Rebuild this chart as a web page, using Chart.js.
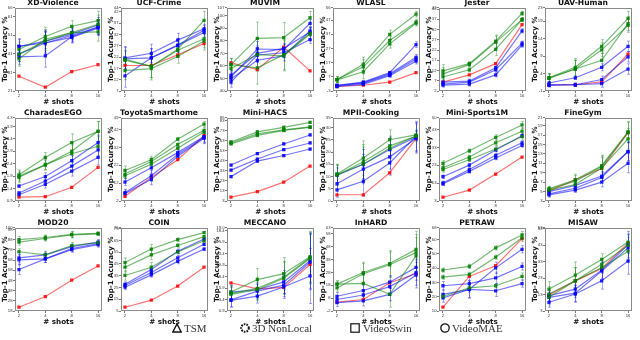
<!DOCTYPE html>
<html>
<head>
<meta charset="utf-8">
<script src="https://cdn.jsdelivr.net/npm/chart.js@4/dist/chart.umd.min.js"></script>
<style>
  html, body { margin: 0; padding: 0; background: #fff; }
  body { width: 640px; height: 340px; overflow: hidden; position: relative; font-family: "DejaVu Sans", sans-serif; }
  .panel { position: absolute; width: 106px; height: 107px; }
  .item { position: absolute; top: 321px; height: 14px; line-height: 14px; font-family: "Liberation Serif", serif; font-size: 11px; color: #333; white-space: nowrap; }
  .item svg { position: absolute; top: 2px; }
  .item span { position: absolute; top: 0; }
</style>
</head>
<body>
<div id="grid"></div>

<div class="item" style="left:172px"><svg width="10" height="10" viewBox="0 0 10 10"><polygon points="5,1 9.2,9 0.8,9" fill="none" stroke="#111" stroke-width="1.4"/></svg><span style="left:12px">TSM</span></div>
<div class="item" style="left:240px"><svg width="10" height="10" viewBox="0 0 10 10"><circle cx="5" cy="5" r="3.8" fill="none" stroke="#111" stroke-width="2" stroke-dasharray="1.6 1.1"/></svg><span style="left:12px">3D NonLocal</span></div>
<div class="item" style="left:350px"><svg width="10" height="10" viewBox="0 0 10 10"><rect x="0.8" y="0.8" width="8.4" height="8.4" fill="none" stroke="#111" stroke-width="1.2"/></svg><span style="left:13px">VideoSwin</span></div>
<div class="item" style="left:440px"><svg width="10" height="10" viewBox="0 0 10 10"><circle cx="5" cy="5" r="4.2" fill="none" stroke="#111" stroke-width="1.3"/></svg><span style="left:12px">VideoMAE</span></div>

<script>
// x positions (number of shots)
const shots = [2, 4, 8, 16];

const titles = ["XD-Violence", "UCF-Crime", "MUVIM", "WLASL", "Jester", "UAV-Human",
  "CharadesEGO", "ToyotaSmarthome", "Mini-HACS", "MPII-Cooking", "Mini-Sports1M", "FineGym",
  "MOD20", "COIN", "MECCANO", "InHARD", "PETRAW", "MISAW"];

// y tick spacing per panel
const yStep = [10, 5, 10, 10, 5, 5, 0.5, 10, 10, 5, 10, 2, 10, 10, 2.5, 10, 10, 10];

// ---- row 1 ----
const xdGreen = [[43.5, 50.5, 56, 59], [38.5, 49, 52.6, 53], [41, 48, 52.6, 57]];
const xdBlue = [[45.3, 47, 51, 55.5], [39.5, 40, 50.4, 55.6], [41, 47, 50, 55], [45, 48, 51.8, 56.7]];
const xdRed = [29.1, 23.2, 31.6, 35.3];
const xdErrG = [4, 5, 3, 5];
const xdErrB = [4, 6, 3, 4];

const ucfGreen = [[20.9, 18.2, 25.8, 38.5], [16.3, 17.2, 22.6, 29.4], [21.3, 18.2, 25.3, 30.4]];
const ucfBlue = [[22, 24, 29.8, 34.8], [14, 22, 27.4, 33.2], [21.5, 22, 27.6, 34.2]];
const ucfRed = [18.6, 18.6, 23.3, 28.3];
const ucfErrG = [4, 5, 3, 4];
const ucfErrB = [5, 4, 3, 2];

const muvimGreen = [[61, 82, 82.6, 98.5], [61, 58.5, 69, 86], [58, 69, 68, 85.4]];
const muvimBlue = [[51, 73.5, 73, 94], [49.5, 64.5, 68, 88], [47, 68.7, 70.5, 81], [52.6, 70, 74, 87]];
const muvimRed = [62.5, 57, 75, 56];
const muvimErrG = [5, 13, 12, 5];
const muvimErrB = [4, 6, 4, 3];

const wlaslGreen = [[5.5, 16.3, 37.4, 51.6], [5.5, 14.5, 33, 46], [5.3, 11, 30.7, 45.3]];
const wlaslBlue = [[1.5, 3.7, 10.4, 30.2], [1, 2.8, 8.9, 20], [0.6, 2.1, 8.2, 18.5], [1.3, 3.3, 9.6, 21.2]];
const wlaslRed = [0.6, 1.5, 3.7, 10.4];
const wlaslErrG = [2, 5, 3, 2];
const wlaslErrB = [0.5, 1, 1, 2];

const jesterGreen = [[11.5, 15, 26, 39.5], [10, 14.5, 25.5, 36.5], [8.5, 12, 22, 36.5]];
const jesterBlue = [[6, 6.5, 13, 31], [5, 6, 12, 25], [4.5, 5, 9.5, 24]];
const jesterRed = [6, 9.5, 15, 34];
const jesterErrG = [3, 1, 3, 1];
const jesterErrB = [1, 1, 1, 1];

const uavGreen = [[3, 6, 12, 20], [3, 5.5, 11, 18], [2.8, 5.5, 8, 18.5]];
const uavBlue = [[1.5, 3, 6, 12], [1, 1, 2.5, 9], [0.8, 1, 1.3, 5.5]];
const uavRed = [1, 1, 1.8, 9.8];
const uavErrG = [1.2, 2.5, 2, 2];
const uavErrB = [0.5, 0.5, 1, 1.5];

// ---- row 2 ----
const charadesGreen = [[2.0, 2.7, 3.3, 3.75], [1.95, 2.4, 2.95, 3.75], [1.9, 2.4, 2.85, 3.15]];
const charadesBlue = [[1.55, 1.93, 2.57, 3.3], [1.27, 1.75, 2.35, 3.0], [1.2, 1.62, 2.15, 2.7]];
const charadesRed = [1.1, 1.12, 1.5, 2.3];
const charadesErrG = [0.2, 0.2, 0.35, 0.4];
const charadesErrB = [0.05, 0.15, 0.2, 0.3];

const toyotaGreen = [[19, 25, 36.5, 45], [17, 24, 33.5, 41.5], [16, 22.5, 31.5, 40.5]];
const toyotaBlue = [[12.5, 20.5, 29, 38], [6.5, 16, 28, 37.5], [6, 14, 27, 37]];
const toyotaRed = [4.5, 15, 25, 38.5];
const toyotaErrG = [2.5, 2, 1, 1.5];
const toyotaErrB = [2, 3, 2, 3];

const hacsGreen = [[62, 72, 76.5, 81.5], [61, 70, 74, 77], [60, 68.5, 73.5, 76.5]];
const hacsBlue = [[39, 50.5, 60, 69], [34, 45, 54.5, 61], [27.5, 43, 48.5, 55]];
const hacsRed = [7, 12.5, 22, 38];
const hacsErrG = [1, 1.5, 1.5, 1];
const hacsErrB = [1, 1, 1, 1];

const mpiiGreen = [[11.5, 18, 25.5, 27.5], [11, 16.5, 23, 27], [11.3, 15.5, 22, 27]];
const mpiiBlue = [[11, 15.5, 21.5, 26.5], [7.5, 13.5, 18.5, 26], [5, 8.5, 16, 27]];
const mpiiRed = [3, 3, 12, 26];
const mpiiErrG = [4, 7, 4, 2];
const mpiiErrB = [3, 6, 5, 6];

const sportsGreen = [[24.5, 31.5, 39, 46], [22, 28, 36, 42.5], [21, 26.5, 32.5, 39.5]];
const sportsBlue = [[17, 23.5, 32, 40], [13.5, 21, 29, 36], [13, 20, 27.5, 34.5]];
const sportsRed = [5.5, 9.5, 18.5, 28];
const sportsErrG = [1.5, 1, 1.5, 2];
const sportsErrB = [1, 1, 1, 1];

const gymGreen = [[6.1, 8, 11, 18.2], [6, 7.7, 10.8, 18], [5.8, 7, 10.5, 16.7]];
const gymBlue = [[5.5, 6.8, 8.8, 14], [5, 6.2, 8.5, 14], [4.8, 5.8, 7.5, 11.5]];
const gymRed = [5.6, 8, 10.4, 18];
const gymErrG = [0.5, 1.2, 2.2, 2.2];
const gymErrB = [0.5, 0.5, 1, 2];

// ---- row 3 ----
const mod20Green = [[88, 90, 93, 94], [85.5, 89, 92.5, 93.5], [76, 73, 82, 85]];
const mod20Blue = [[70, 73, 81, 85.5], [68, 69, 79, 84], [58.5, 69, 78, 83]];
const mod20Red = [21.5, 32, 48, 62];
const mod20ErrG = [3, 2.5, 3, 1.5];
const mod20ErrB = [5, 3.5, 2.5, 2.5];

const coinGreen = [[46, 57.5, 65.5, 71.5], [42, 52.5, 60.5, 68], [35, 42, 55, 64.5]];
const coinBlue = [[27.5, 40, 55.5, 66], [26.5, 37.5, 50, 61.5], [25, 35.5, 47, 57.5]];
const coinRed = [8, 14, 26, 42];
const coinErrG = [4, 4, 1.5, 1];
const coinErrB = [2, 2, 2, 1];

const meccanoGreen = [[5, 7.7, 9, 12.7], [4.7, 5.8, 8.2, 12.5], [4.5, 5.5, 8, 12.3]];
const meccanoBlue = [[5, 5.5, 7.2, 11.8], [3.3, 5.2, 6.5, 11.5], [3.2, 4.1, 6.1, 8.5]];
const meccanoRed = [7, 5.7, 6, 11];
const meccanoErrG = [1.5, 2.4, 3.5, 5.5];
const meccanoErrB = [1.5, 1.5, 2.5, 6];

const inhardGreen = [[19, 28, 35, 46], [16, 27, 34, 43.5], [19, 19.5, 11, 41]];
const inhardBlue = [[9.5, 14, 20.5, 32], [7, 10.5, 17, 28], [4.5, 6, 11, 26]];
const inhardRed = [5, 7, 20, 27];
const inhardErrG = [2.5, 8, 10, 14];
const inhardErrB = [3, 4, 5, 10];

const petrawGreen = [[38.5, 41, 54, 63], [33.5, 35.5, 47.5, 61], [20, 26, 27.5, 34]];
const petrawBlue = [[27.5, 29, 33, 41], [21.5, 25, 40, 53], [19, 25, 24, 29]];
const petrawRed = [12.5, 34, 41.5, 60.5];
const petrawErrG = [1.5, 1.5, 1.5, 2.5];
const petrawErrB = [3, 6, 4, 2.5];

const misawGreen = [[16, 24.5, 34, 44.5], [13, 21, 31, 42.5], [11, 21, 29, 39]];
const misawBlue = [[12, 16, 27.5, 43], [11, 13.5, 27, 41], [8, 13, 21, 33]];
const misawRed = [12.5, 21, 28.5, 44];
const misawErrG = [4.5, 8, 3.5, 5];
const misawErrB = [3, 5, 5, 8];

const panels = [
  [xdGreen, xdBlue, xdRed, xdErrG, xdErrB],
  [ucfGreen, ucfBlue, ucfRed, ucfErrG, ucfErrB],
  [muvimGreen, muvimBlue, muvimRed, muvimErrG, muvimErrB],
  [wlaslGreen, wlaslBlue, wlaslRed, wlaslErrG, wlaslErrB],
  [jesterGreen, jesterBlue, jesterRed, jesterErrG, jesterErrB],
  [uavGreen, uavBlue, uavRed, uavErrG, uavErrB],
  [charadesGreen, charadesBlue, charadesRed, charadesErrG, charadesErrB],
  [toyotaGreen, toyotaBlue, toyotaRed, toyotaErrG, toyotaErrB],
  [hacsGreen, hacsBlue, hacsRed, hacsErrG, hacsErrB],
  [mpiiGreen, mpiiBlue, mpiiRed, mpiiErrG, mpiiErrB],
  [sportsGreen, sportsBlue, sportsRed, sportsErrG, sportsErrB],
  [gymGreen, gymBlue, gymRed, gymErrG, gymErrB],
  [mod20Green, mod20Blue, mod20Red, mod20ErrG, mod20ErrB],
  [coinGreen, coinBlue, coinRed, coinErrG, coinErrB],
  [meccanoGreen, meccanoBlue, meccanoRed, meccanoErrG, meccanoErrB],
  [inhardGreen, inhardBlue, inhardRed, inhardErrG, inhardErrB],
  [petrawGreen, petrawBlue, petrawRed, petrawErrG, petrawErrB],
  [misawGreen, misawBlue, misawRed, misawErrG, misawErrB]
];

const GREEN = "0,128,0", BLUE = "0,0,255", RED = "255,0,0";

// error bars + axes box
const errorBars = {
  id: "errorBars",
  beforeDatasetsDraw(chart) {
    const ctx = chart.ctx, xs = chart.scales.x, ys = chart.scales.y;
    chart.data.datasets.forEach(ds => {
      if (!ds.err) return;
      ctx.save();
      ctx.strokeStyle = ds.errColor;
      ctx.lineWidth = 1;
      ds.data.forEach((p, i) => {
        const x = Math.round(xs.getPixelForValue(p.x)) + 0.5;
        const y0 = ys.getPixelForValue(p.y - ds.err[i]);
        const y1 = ys.getPixelForValue(p.y + ds.err[i]);
        ctx.beginPath();
        ctx.moveTo(x, y0); ctx.lineTo(x, y1);
        ctx.moveTo(x - 1.5, y0); ctx.lineTo(x + 1.5, y0);
        ctx.moveTo(x - 1.5, y1); ctx.lineTo(x + 1.5, y1);
        ctx.stroke();
      });
      ctx.restore();
    });
  },
  afterDraw(chart) {
    const a = chart.chartArea, ctx = chart.ctx;
    ctx.save();
    ctx.strokeStyle = "#8a8a8a";
    ctx.lineWidth = 1;
    ctx.strokeRect(Math.round(a.left) + 0.5, Math.round(a.top) + 0.5, Math.round(a.width) - 1, Math.round(a.height) - 1);
    ctx.restore();
  }
};

function series(vals, rgb, err) {
  return {
    data: vals.map((v, i) => ({ x: shots[i], y: v })),
    borderColor: `rgba(${rgb},0.55)`,
    backgroundColor: `rgba(${rgb},0.85)`,
    pointBackgroundColor: `rgba(${rgb},0.85)`,
    borderWidth: 1.2,
    pointStyle: "rect",
    pointRadius: 2.3,
    pointBorderWidth: 0,
    err: err,
    errColor: `rgba(${rgb},0.35)`
  };
}

const grid = document.getElementById("grid");
panels.forEach((p, k) => {
  const [green, blue, red, errG, errB] = p;
  const col = k % 6, row = Math.floor(k / 6);
  const div = document.createElement("div");
  div.className = "panel";
  div.style.left = (col * 106) + "px";
  div.style.top = (row * 110 - 1) + "px";
  const cv = document.createElement("canvas");
  cv.width = 106; cv.height = 107;
  div.appendChild(cv);
  grid.appendChild(div);

  const datasets = [];
  green.forEach(s => datasets.push(series(s, GREEN, errG)));
  blue.forEach(s => datasets.push(series(s, BLUE, errB)));
  datasets.push(series(red, RED, null));

  // matplotlib-like autoscale with 5% margins
  let lo = Infinity, hi = -Infinity;
  datasets.forEach(ds => ds.data.forEach((pt, i) => {
    const e = ds.err ? ds.err[i] : 0;
    lo = Math.min(lo, pt.y - e); hi = Math.max(hi, pt.y + e);
  }));
  const pad = (hi - lo) * 0.05;
  const step = yStep[k];
  const dec = step % 1 === 0 ? 0 : 1;

  new Chart(cv, {
    type: "line",
    data: { datasets },
    plugins: [errorBars],
    options: {
      responsive: false,
      animation: false,
      layout: { padding: 0 },
      plugins: {
        legend: { display: false },
        tooltip: { enabled: false },
        title: {
          display: true, text: titles[k], color: "#111",
          font: { family: "DejaVu Sans", size: 7.6, weight: "bold", lineHeight: 1 },
          padding: { top: 0.5, bottom: 0.5 }
        }
      },
      scales: {
        x: {
          type: "logarithmic",
          bounds: "data",
          min: 2 / Math.pow(2, 0.15),
          max: 16 * Math.pow(2, 0.15),
          afterBuildTicks: s => { s.ticks = shots.map(v => ({ value: v })); },
          afterFit: s => { s.height = 15; },
          ticks: { callback: v => String(v), font: { size: 4.2 }, color: "#333", padding: 0.5, maxRotation: 0, autoSkip: false },
          grid: { display: true, drawOnChartArea: false, tickLength: 2, color: "#777" },
          border: { display: false },
          title: {
            display: true, text: "# shots", color: "#111",
            font: { family: "DejaVu Sans", size: 7.2, weight: "bold", lineHeight: 1.2 },
            padding: 0
          }
        },
        y: {
          type: "linear",
          bounds: "data",
          min: lo - pad,
          max: hi + pad,
          afterFit: s => { s.width = 15; },
          ticks: { stepSize: step, includeBounds: false, autoSkip: false, callback: v => Number(v).toFixed(dec), font: { size: 4.2 }, color: "#333", padding: 0.5 },
          grid: { display: true, drawOnChartArea: false, tickLength: 2, color: "#777" },
          border: { display: false },
          title: {
            display: true, text: "Top-1 Acuracy %", color: "#111",
            font: { family: "DejaVu Sans", size: 7.1, weight: "bold", lineHeight: 1.2 },
            padding: { top: 1, bottom: 0 }
          }
        }
      }
    }
  });
});
</script>
</body>
</html>
